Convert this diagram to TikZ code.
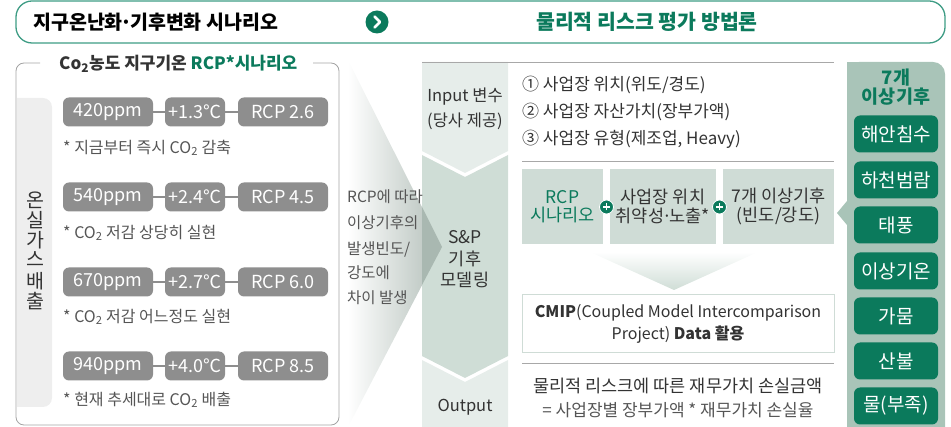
\documentclass[tikz,border=0pt]{standalone}
\usepackage{fontspec}
\setmainfont{Noto Sans CJK KR}
\usetikzlibrary{shadings}
\definecolor{tealG}{HTML}{0B7A5C}
\definecolor{bannerB}{HTML}{3E9C84}
\definecolor{pillG}{HTML}{8E8E8E}
\definecolor{barG}{HTML}{EEEEEE}
\definecolor{panelB}{HTML}{A3A3A3}
\definecolor{colLight}{HTML}{E6EDEA}
\definecolor{colMid}{HTML}{CFDDD6}
\definecolor{boxG}{HTML}{CFDCD6}
\definecolor{rightP}{HTML}{A9C4B8}
\definecolor{txtD}{HTML}{333333}
\definecolor{txtM}{HTML}{555555}
\definecolor{lineG}{HTML}{A8A8A8}
\definecolor{wedgeG}{HTML}{B3BFB9}
\definecolor{tipG}{HTML}{A9B8B1}
\newcommand{\fs}[1]{\fontsize{#1}{#1}\selectfont}
\newcommand{\COtwo}{CO\textsubscript{2}}
\newcommand{\mdot}{\kern-0.12em·\kern-0.12em}
\begin{document}
\begin{tikzpicture}[x=1pt,y=-1pt,
  pill/.style={fill=pillG, rounded corners=6pt, minimum height=29pt, text=white, font=\fs{18}, inner sep=0pt},
  pilllink/.style={draw=pillG, line width=1.3pt},
  capt/.style={anchor=west, text=txtM, font=\fs{16}, inner sep=0pt},
  vchar/.style={text=txtD, font=\fs{19.5}, inner sep=0pt},
  item/.style={anchor=west, text=txtD, font=\fs{17}, inner sep=0pt},
  midbox/.style={fill=boxG, minimum height=75pt, align=center, text=txtD, font=\fs{17.5}, inner sep=0pt},
  climbox/.style={fill=tealG, rounded corners=6pt, minimum width=84pt, minimum height=37pt, text=white, font=\fs{19}, inner sep=0pt},
  coltext/.style={align=center, text=txtD, font=\fs{16.5}, inner sep=0pt},
  sepline/.style={draw=lineG, line width=0.8pt},
  pluscirc/.style={circle, fill=tealG, draw=white, line width=0.8pt, minimum size=14pt, inner sep=0pt}
]
\useasboundingbox (0,0) rectangle (951,427);
\clip (0,0) rectangle (951,427);

% ---------- top banner ----------
\draw[bannerB, line width=1.3pt, rounded corners=16pt] (16,1) rectangle (945,43);
\node[anchor=west, inner sep=0pt, font=\fs{19.5}\bfseries, text=black] (t1) at (33,22) {지구온난화\mdot 기후변화 시나리오};
\node[circle, fill=tealG, minimum size=23pt, inner sep=0pt] (chev) at (377,22) {};
\draw[white, line width=2.6pt, line cap=round, line join=round] ([shift={(-2.5,-5.5)}]chev.center) -- ([shift={(3,0)}]chev.center) -- ([shift={(-2.5,5.5)}]chev.center);
\node[inner sep=0pt, font=\fs{20.5}\bfseries, text=tealG] (t2) at (647,22) {물리적 리스크 평가 방법론};

% ---------- left panel ----------
\draw[panelB, line width=0.8pt, rounded corners=8pt] (40,63) -- (16,63) -- (16,425) -- (339,425) -- (339,63) -- (313,63);
\node[anchor=west, inner sep=0pt, font=\fs{17}\bfseries, text=txtD] (lt) at (59,64) {Co\textsubscript{2}농도 지구기온 \textcolor{tealG}{RCP*시나리오}};
\fill[barG, rounded corners=9pt] (17,98) -- (52,98) -- (52,407) -- (17,407) [sharp corners] -- cycle;
\fill[barG] (17,98) rectangle (30,407);
\node[vchar] (v1) at (35,200) {온};
\node[vchar] (v2) at (35,220) {실};
\node[vchar] (v3) at (35,240) {가};
\node[vchar] (v4) at (35,259) {스};
\node[vchar] (v5) at (35,281) {배};
\node[vchar] (v6) at (35,301) {출};

% rows
\foreach \i/\ppm/\tmp/\rcp/\yy in {1/420ppm/+1.3℃/RCP 2.6/112, 2/540ppm/+2.4℃/RCP 4.5/197, 3/670ppm/+2.7℃/RCP 6.0/282, 4/940ppm/+4.0℃/RCP 8.5/366}{
  \node[pill, minimum width=90pt] (a\i) at (108,\yy) {\ppm};
  \node[pill, minimum width=60pt] (b\i) at (195,\yy) {\tmp};
  \node[pill, minimum width=90pt] (c\i) at (283,\yy) {\rcp};
  \draw[pilllink] (a\i.east) -- (b\i.west);
  \draw[pilllink] (b\i.east) -- (c\i.west);
}
\node[capt] (cap1) at (63,148) {* 지금부터 즉시 \COtwo{} 감축};
\node[capt] (cap2) at (63,233) {* \COtwo{} 저감 상당히 실현};
\node[capt] (cap3) at (63,317) {* \COtwo{} 저감 어느정도 실현};
\node[capt] (cap4) at (63,400) {* 현재 추세대로 \COtwo{} 배출};

% ---------- wedge ----------
\shade[left color=white, right color=wedgeG] (348,60) -- (442,247) -- (348,427) -- cycle;

% ---------- center column ----------
\fill[colLight] (422,62) -- (508,62) -- (508,151) -- (465,173) -- (422,151) -- cycle;
\fill[colMid] (422,155) -- (465,177) -- (508,155) -- (508,356) -- (465,378) -- (422,356) -- cycle;
\fill[colLight] (422,360) -- (465,382) -- (508,360) -- (508,427) -- (422,427) -- cycle;
\fill[tipG] (422,207) -- (442,247) -- (422,285) -- cycle;
\draw[sepline] (422,62) -- (834,62);

\node[coltext] (in1) at (465,97) {Input 변수};
\node[coltext] (in2) at (465,121) {(당사 제공)};
\node[coltext, font=\fs{17.5}] (sp1) at (465,237) {S\&P};
\node[coltext, font=\fs{17.5}] (sp2) at (465,259) {기후};
\node[coltext, font=\fs{17.5}] (sp3) at (465,280) {모델링};
\node[coltext] (out) at (465,407) {Output};

% wedge text
\foreach \n/\t/\yy in {w1/RCP에 따라/197, w2/이상기후의/223, w3/발생빈도\slash/249, w4/강도에/273, w5/차이 발생/298}{
  \node[anchor=west, inner sep=0pt, text=txtM, font=\fs{15.5}] (\n) at (347,\yy) {\t};
}

% ---------- items ----------
\node[item] (i1) at (522,85) {① 사업장 위치(위도/경도)};
\node[item] (i2) at (522,112) {② 사업장 자산가치(장부가액)};
\node[item] (i3) at (522,139) {③ 사업장 유형(제조업, Heavy)};
\draw[sepline] (522,161) -- (834,161);

% three boxes
\node[midbox, minimum width=81pt, text=tealG] (m1) at (562.5,206.5) {RCP\\[1pt]시나리오};
\node[midbox, minimum width=106pt] (m2) at (663,206.5) {사업장 위치\\[1pt]취약성\mdot 노출*};
\node[midbox, minimum width=111pt] (m3) at (778.5,206.5) {7개 이상기후\\[1pt](빈도/강도)};
\foreach \p/\xx in {p1/606.5, p2/719.5}{
  \node[pluscirc] (\p) at (\xx,207) {};
  \draw[white, line width=1.6pt] ([xshift=-3.5pt]\p.center) -- ([xshift=3.5pt]\p.center);
  \draw[white, line width=1.6pt] ([yshift=-3.5pt]\p.center) -- ([yshift=3.5pt]\p.center);
}

% down triangle
\shade[top color=white, bottom color=colMid] (590,252) -- (758,252) -- (674,290) -- cycle;

% CMIP box
\node[draw=boxG, line width=1pt, fill=white, minimum width=312pt, minimum height=58pt, align=center, text=txtD, font=\fs{16}, inner sep=0pt] (cmip) at (678,324) {\textbf{CMIP}(Coupled Model Intercomparison\\[4pt]Project) \textbf{Data 활용}};
\draw[sepline] (522,363) -- (834,363);
\node[inner sep=0pt, text=txtD, font=\fs{17.5}] (o1) at (678,386) {물리적 리스크에 따른 재무가치 손실금액};
\node[inner sep=0pt, text=txtM, font=\fs{17}] (o2) at (678,410) {= 사업장별 장부가액 * 재무가치 손실율};

% ---------- right panel ----------
\fill[rightP, rounded corners=12pt] (847,62) rectangle (945,440);
\fill[rightP] (847,62) rectangle (900,440);
\fill[rightP] (847,201) -- (837,213) -- (847,225) -- cycle;
\node[align=center, inner sep=0pt, text=tealG, font=\fs{18.5}\bfseries] (rh) at (896,87) {7개\\[1pt]이상기후};
\foreach \n/\t/\yy in {k1/해안침수/134, k2/하천범람/180, k3/태풍/225, k4/이상기온/271, k5/가뭄/316, k6/산불/361, k7/물(부족)/406}{
  \node[climbox] (\n) at (896,\yy) {\t};
}
\end{tikzpicture}
\end{document}
